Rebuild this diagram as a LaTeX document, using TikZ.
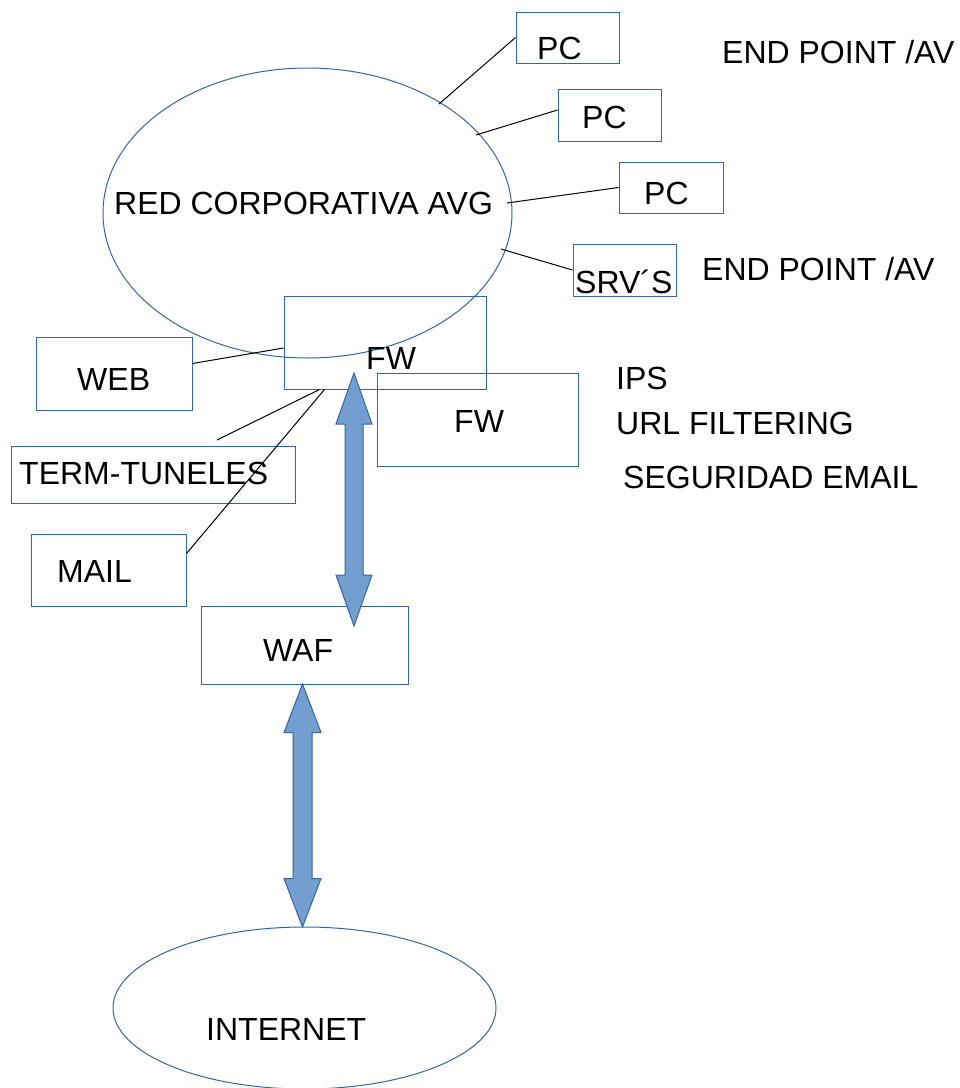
\documentclass[tikz,border=0pt]{standalone}
\usepackage{fontspec}
\setmainfont{Liberation Sans}
\usetikzlibrary{calc,shapes.geometric}
\definecolor{boxline}{HTML}{3465A4}
\definecolor{arrfill}{HTML}{729FCF}
\newcommand\dblarr[5]{% #1 top tip, #2 bottom tip, #3 head half width, #4 shaft half width, #5 head length
  \filldraw[fill=arrfill,draw=boxline,line width=1pt,line join=miter]
    (#1) -- ++(#3,#5) -- ++({#4-#3},0) -- ($(#2)+(#4,-#5)$) -- ++({#3-#4},0) -- (#2)
    -- ++(-#3,-#5) -- ++({#3-#4},0) -- ($(#1)+(-#4,#5)$) -- ++({#4-#3},0) -- cycle;}
\begin{document}
\begin{tikzpicture}[x=1pt,y=-1pt,
  box/.style={draw=boxline,line width=1pt,rectangle,inner sep=0pt},
  oval/.style={draw=boxline,line width=1pt,ellipse,inner sep=0pt},
  txt/.style={anchor=base west,inner sep=0pt,font=\fontsize{32}{38}\selectfont},
  link/.style={draw=black,line width=1pt}]
\useasboundingbox (0,0) rectangle (960,1088);

% ellipses
\node[oval,minimum width=409pt,minimum height=290pt] (red) at (307.5,213) {};
\node[oval,minimum width=383pt,minimum height=162pt] (inet) at (304.5,1008) {};

% boxes
\node[box,minimum width=103pt,minimum height=51pt] (pc1) at (567.5,37.5) {};
\node[box,minimum width=103pt,minimum height=52pt] (pc2) at (609.5,115) {};
\node[box,minimum width=104pt,minimum height=51pt] (pc3) at (671,187.5) {};
\node[box,minimum width=103pt,minimum height=52pt] (srv) at (624.5,270) {};
\node[box,minimum width=202pt,minimum height=93pt] (fw1) at (385,342.5) {};
\node[box,minimum width=201pt,minimum height=93pt] (fw2) at (477.5,419.5) {};
\node[box,minimum width=156pt,minimum height=73pt] (web) at (114,373.5) {};
\node[box,minimum width=284pt,minimum height=57pt] (term) at (153,474.5) {};
\node[box,minimum width=155pt,minimum height=72pt] (mail) at (108.5,570) {};
\node[box,minimum width=207pt,minimum height=78pt] (waf) at (304.5,645) {};

% free ends of connectors
\coordinate (e1) at (439,104);
\coordinate (e2) at (476,135);
\coordinate (e3) at (507,203);
\coordinate (e4) at (501,249);
\coordinate (t1) at (217,440);

% connectors
\draw[link] (e1) -- (pc1.west);
\draw[link] (e2) -- ($(pc2.west)+(0,-5)$);
\draw[link] (e3) -- (pc3.west);
\draw[link] (e4) -- (srv.west);
\draw[link] ($(web.east)+(0,-10)$) -- ($(fw1.west)+(0,5.5)$);
\draw[link] (t1) -- ($(fw1.south west)+(36,0)$);
\draw[link] ($(mail.north east)+(0,20)$) -- ($(fw1.south west)+(41,0)$);

% double arrows
\coordinate (a1t) at (354,373);
\coordinate (a1b) at (354,626);
\coordinate (a2t) at (302.5,684);
\coordinate (a2b) at (302.5,927);
\dblarr{a1t}{a1b}{18}{9}{51}
\dblarr{a2t}{a2b}{18.5}{9.5}{48.5}

% texts
\node[txt] at (114,214) {RED CORPORATIVA AVG};
\node[txt] at (537,59) {PC};
\node[txt] at (582,128) {PC};
\node[txt] at (644,204) {PC};
\node[txt] at (575,293) {SRV´S};
\node[txt] at (722,63) {END POINT /AV};
\node[txt] at (702,280) {END POINT /AV};
\node[txt] at (366,369) {FW};
\node[txt] at (454,432) {FW};
\node[txt] at (77,390) {WEB};
\node[txt] at (19,484) {TERM-TUNELES};
\node[txt] at (57,582) {MAIL};
\node[txt] at (616,389) {IPS};
\node[txt] at (616,434) {URL FILTERING};
\node[txt] at (623,488) {SEGURIDAD EMAIL};
\node[txt] at (263,661) {WAF};
\node[txt] at (206,1040) {INTERNET};
\end{tikzpicture}
\end{document}
